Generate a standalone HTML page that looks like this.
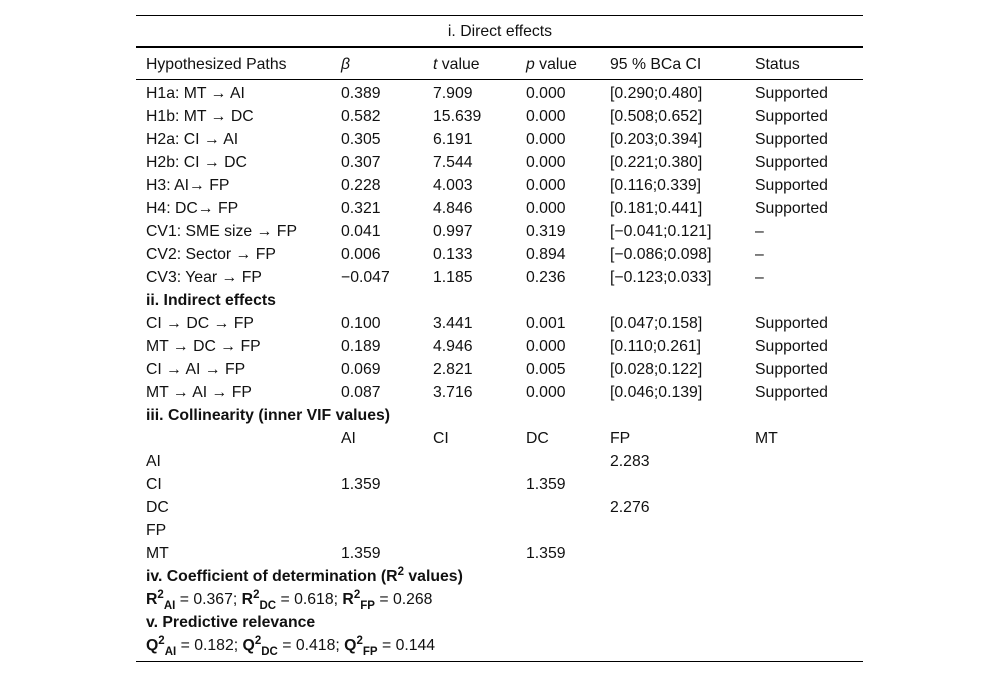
<!DOCTYPE html>
<html><head><meta charset="utf-8"><style>
body{margin:0;width:1000px;height:678px;background:#fff;position:relative;font-family:"Liberation Sans",Arial,sans-serif;font-size:15.8px;color:#111;overflow:hidden}
.l{position:absolute;left:136px;width:727px;background:#000;height:1px}
.c{position:absolute;line-height:18px;white-space:nowrap}
b{font-weight:bold}
sup{font-size:11.5px;vertical-align:6px;line-height:0}
sub{font-size:11.5px;vertical-align:-5px;line-height:0;font-weight:bold}
</style></head><body>
<div class="l" style="top:15px"></div>
<div class="c" style="left:0;width:1000px;text-align:center;top:23px">i. Direct effects</div>
<div class="l" style="top:46px;height:1.5px"></div>
<div class="l" style="top:79px"></div>
<div class="l" style="top:661px"></div>
<div id="t"></div>
<script>
const xs=[146,341,433,526,610,755];
const rows=[
[64,["Hypothesized Paths","<i>β</i>","<i>t</i> value","<i>p</i> value","95 % BCa CI","Status"]],
[93,["H1a: MT → AI","0.389","7.909","0.000","[0.290;0.480]","Supported"]],
[116,["H1b: MT → DC","0.582","15.639","0.000","[0.508;0.652]","Supported"]],
[139,["H2a: CI → AI","0.305","6.191","0.000","[0.203;0.394]","Supported"]],
[162,["H2b: CI → DC","0.307","7.544","0.000","[0.221;0.380]","Supported"]],
[185,["H3: AI→ FP","0.228","4.003","0.000","[0.116;0.339]","Supported"]],
[208,["H4: DC→ FP","0.321","4.846","0.000","[0.181;0.441]","Supported"]],
[231,["CV1: SME size → FP","0.041","0.997","0.319","[−0.041;0.121]","–"]],
[254,["CV2: Sector → FP","0.006","0.133","0.894","[−0.086;0.098]","–"]],
[277,["CV3: Year → FP","−0.047","1.185","0.236","[−0.123;0.033]","–"]],
[300,["<b>ii. Indirect effects</b>"]],
[323,["CI → DC → FP","0.100","3.441","0.001","[0.047;0.158]","Supported"]],
[346,["MT → DC → FP","0.189","4.946","0.000","[0.110;0.261]","Supported"]],
[369,["CI → AI → FP","0.069","2.821","0.005","[0.028;0.122]","Supported"]],
[392,["MT → AI → FP","0.087","3.716","0.000","[0.046;0.139]","Supported"]],
[415,["<b>iii. Collinearity (inner VIF values)</b>"]],
[438,["","AI","CI","DC","FP","MT"]],
[461,["AI","","","","2.283",""]],
[484,["CI","1.359","","1.359","",""]],
[507,["DC","","","","2.276",""]],
[530,["FP"]],
[553,["MT","1.359","","1.359","",""]],
[576,["<b>iv. Coefficient of determination (R<sup>2</sup> values)</b>"]],
[599,["<b>R<sup>2</sup><sub>AI</sub></b> = 0.367; <b>R<sup>2</sup><sub>DC</sub></b> = 0.618; <b>R<sup>2</sup><sub>FP</sub></b> = 0.268"]],
[622,["<b>v. Predictive relevance</b>"]],
[645,["<b>Q<sup>2</sup><sub>AI</sub></b> = 0.182; <b>Q<sup>2</sup><sub>DC</sub></b> = 0.418; <b>Q<sup>2</sup><sub>FP</sub></b> = 0.144"]]
];
const t=document.getElementById('t');
rows.forEach((r,i)=>{r[1].forEach((txt,j)=>{if(!txt)return;
const d=document.createElement('div');d.className='c';
d.style.left=xs[j]+'px';d.style.top=(r[0]-8)+'px';d.innerHTML=txt;


t.appendChild(d);});});
</script>
</body></html>
